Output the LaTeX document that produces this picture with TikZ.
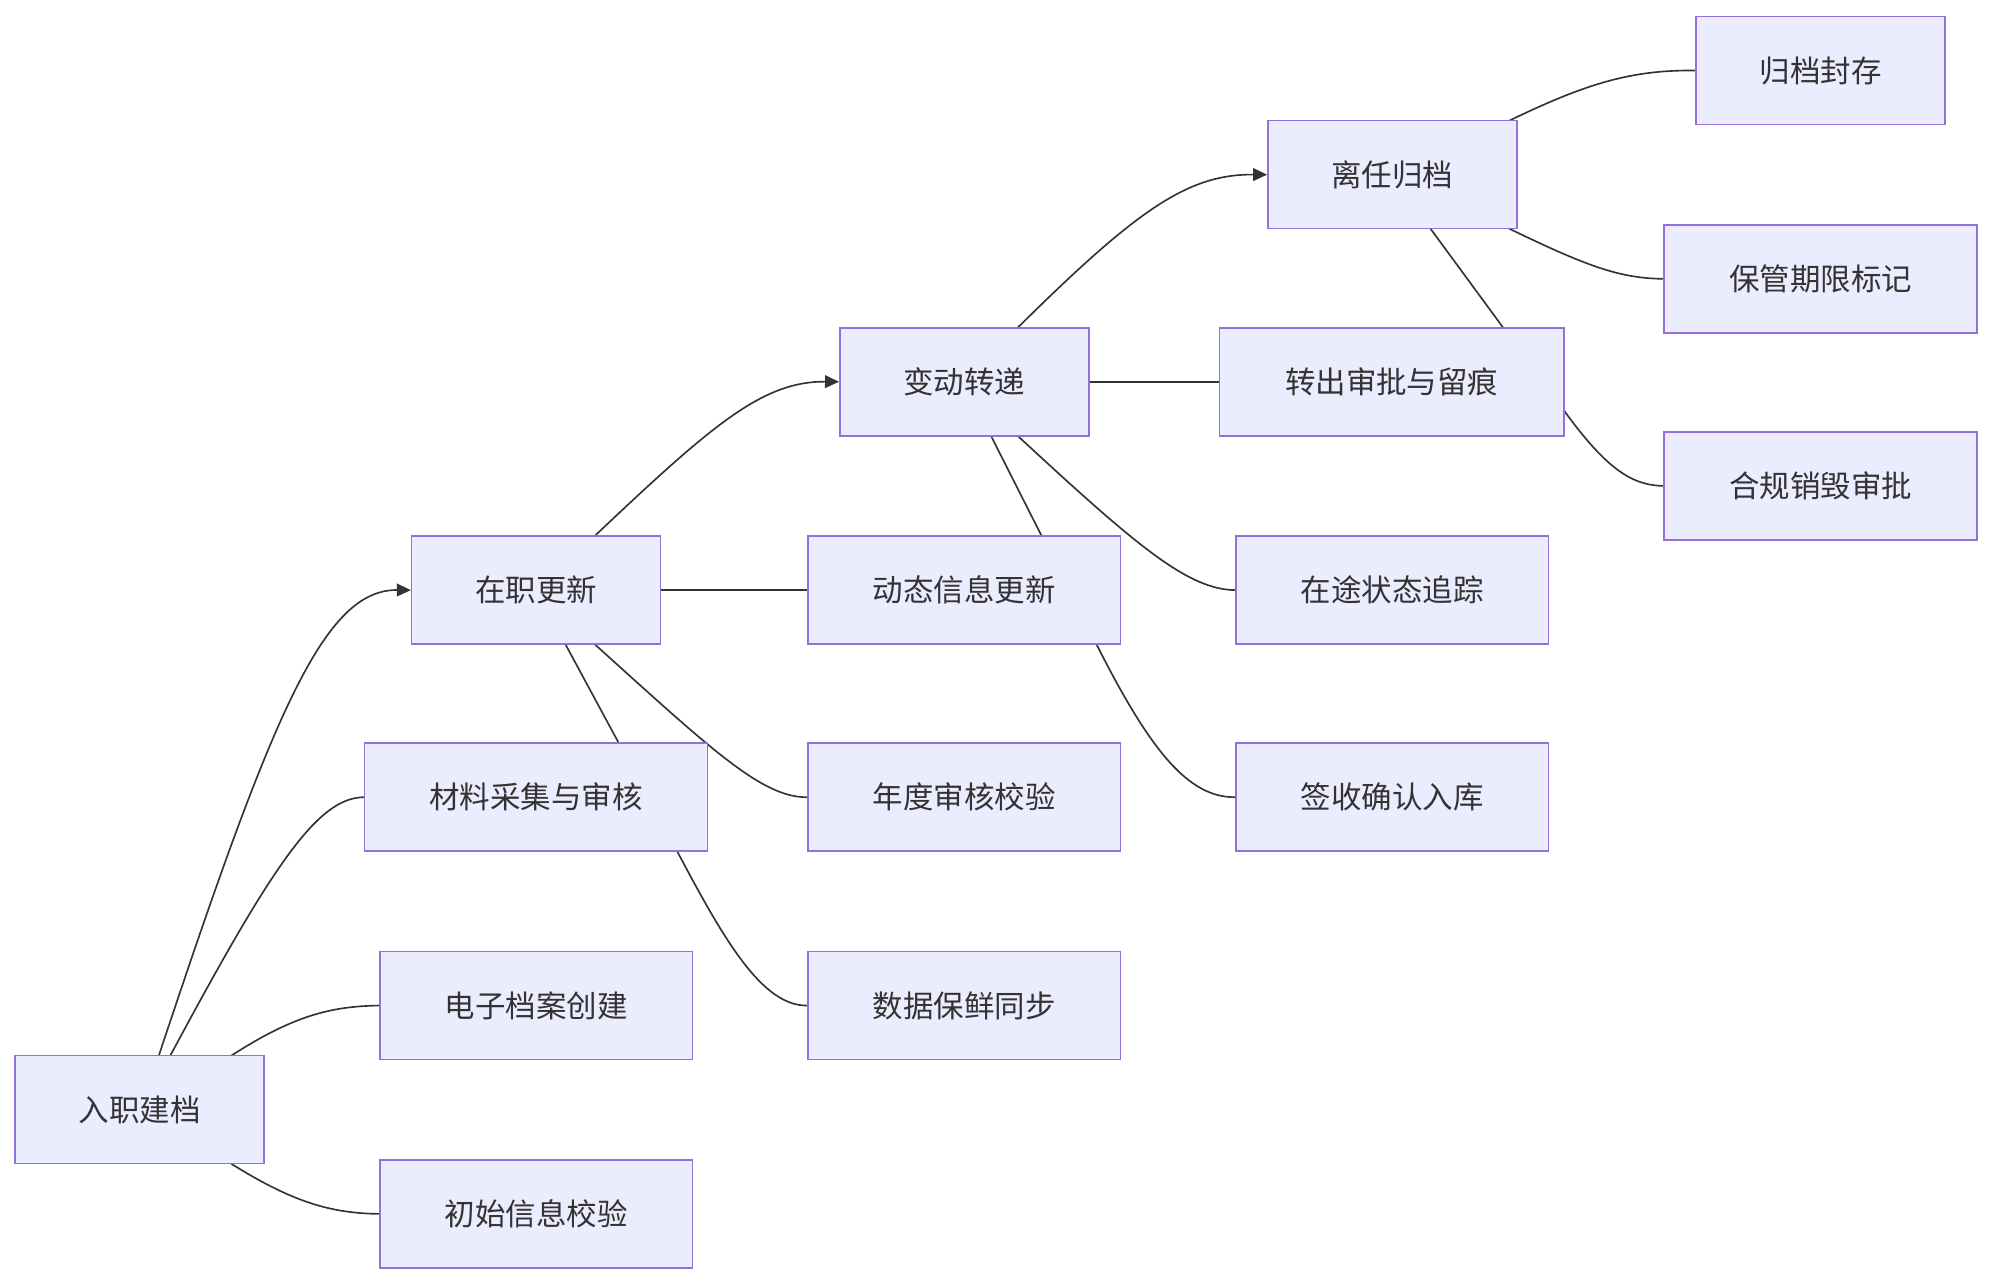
\documentclass[tikz,border=0pt]{standalone}
\usepackage{fontspec}
\newfontfamily\cjk{Noto Sans CJK SC}
\usetikzlibrary{arrows.meta}
\pgfdeclarelayer{bg}
\pgfsetlayers{bg,main}
\definecolor{nfill}{HTML}{ECECFF}
\definecolor{nborder}{HTML}{9370DB}
\definecolor{ln}{HTML}{333333}
\begin{document}
\begin{tikzpicture}[x=1pt,y=-1pt,
  box/.style={draw=nborder,fill=nfill,line width=1.2pt,minimum height=85pt,inner sep=0pt,font=\cjk\fontsize{24}{28}\selectfont,text=ln},
  link/.style={draw=ln,line width=1.3pt},
  arr/.style={link,-{Triangle[length=11pt,width=10pt]}}]
\useasboundingbox (0,0) rectangle (1568,1010);
\node[box,minimum width=196pt] (a) at (110,873.5) {入职建档};
\node[box,minimum width=246pt] (a1) at (422,955.5) {初始信息校验};
\node[box,minimum width=246pt] (a2) at (422,791.5) {电子档案创建};
\node[box,minimum width=270pt] (a3) at (422,627.5) {材料采集与审核};
\node[box,minimum width=196pt] (b) at (422,464.5) {在职更新};
\node[box,minimum width=246pt] (b1) at (759,464.5) {动态信息更新};
\node[box,minimum width=246pt] (b2) at (759,627.5) {年度审核校验};
\node[box,minimum width=246pt] (b3) at (759,791.5) {数据保鲜同步};
\node[box,minimum width=196pt] (c) at (759,300.5) {变动转递};
\node[box,minimum width=271pt] (c1) at (1095.5,300.5) {转出审批与留痕};
\node[box,minimum width=246pt] (c2) at (1096,464.5) {在途状态追踪};
\node[box,minimum width=246pt] (c3) at (1096,627.5) {签收确认入库};
\node[box,minimum width=196pt] (d) at (1096,137.5) {离任归档};
\node[box,minimum width=196pt] (d1) at (1433,55.5) {归档封存};
\node[box,minimum width=246pt] (d2) at (1433,219.5) {保管期限标记};
\node[box,minimum width=246pt] (d3) at (1433,382.5) {合规销毁审批};
\begin{pgfonlayer}{bg}
\coordinate (p1) at (125,831); \coordinate (p2) at (134,831); \coordinate (p3) at (182,831); \coordinate (p4) at (182,916);
\draw[arr] (p1) .. controls (215,560) and (255,464) .. (b.west);
\draw[link] (p2) .. controls (215,680) and (250,628) .. (a3.west);
\draw[link] (p3) .. controls (230,800) and (260,792) .. (a2.west);
\draw[link] (p4) .. controls (230,946) and (260,955) .. (a1.west);
\coordinate (q1) at (468,422); \coordinate (q2) at (445,507); \coordinate (q3) at (468,507);
\draw[arr] (q1) .. controls (560,335) and (600,300) .. (c.west);
\draw[link] (b.east) -- (b1.west);
\draw[link] (q2) -- (533,670) .. controls (570,740) and (600,792) .. (b3.west);
\draw[link] (q3) .. controls (560,590) and (600,628) .. (b2.west);
\coordinate (r1) at (801,258); \coordinate (r2) at (780,343); \coordinate (r3) at (801,343);
\draw[arr] (r1) .. controls (895,165) and (935,137) .. (d.west);
\draw[link] (c.east) -- (c1.west);
\draw[link] (r2) -- (863,507) .. controls (905,590) and (935,628) .. (c3.west);
\draw[link] (r3) .. controls (895,430) and (935,464) .. (c2.west);
\coordinate (s1) at (1188,95); \coordinate (s2) at (1188,180); \coordinate (s3) at (1126,180);
\draw[link] (s1) .. controls (1250,65) and (1285,55) .. (d1.west);
\draw[link] (s2) .. controls (1250,210) and (1275,219) .. (d2.west);
\draw[link] (s3) -- (1231,323) .. controls (1265,370) and (1285,382) .. (d3.west);
\end{pgfonlayer}
\end{tikzpicture}
\end{document}
